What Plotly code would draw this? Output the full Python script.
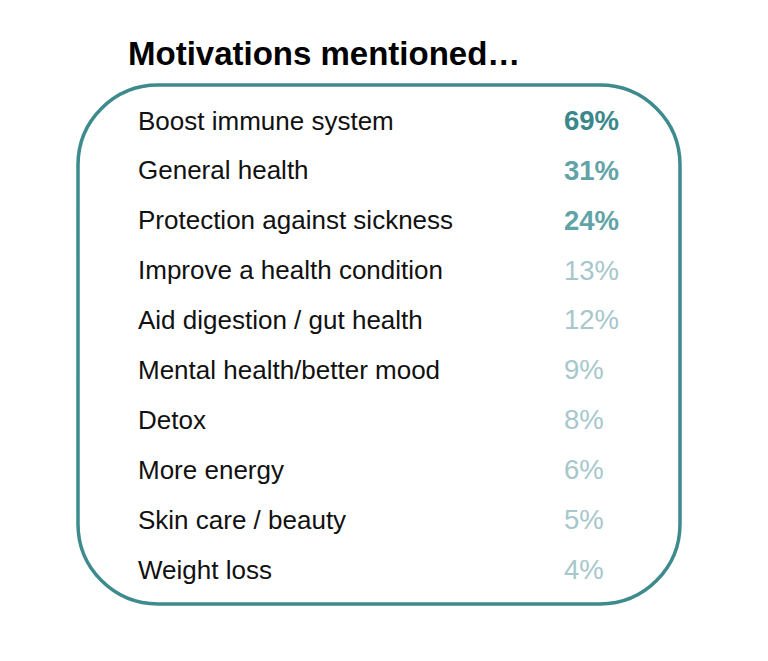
import plotly.graph_objects as go

# motivations and share of mentions
motivations = [
    "Boost immune system",
    "General health",
    "Protection against sickness",
    "Improve a health condition",
    "Aid digestion / gut health",
    "Mental health/better mood",
    "Detox",
    "More energy",
    "Skin care / beauty",
    "Weight loss",
]
shares = [69, 31, 24, 13, 12, 9, 8, 6, 5, 4]

title_text = "Motivations mentioned…"

W, H = 768, 661
TEAL = "#3e8b8e"


def tier_color(v):
    if v >= 50:
        return "#3a888c"
    if v >= 20:
        return "#62a3a8"
    return "#a6c7cb"


def tier_weight(v):
    return "<b>%d%%</b>" % v if v >= 20 else "%d%%" % v


def py(y):
    # pixel -> paper (margins are zero)
    return 1 - y / H


def rounded_box(x0, y0, x1, y1, r):
    k = 0.5523 * r
    pts = [
        "M %f,%f" % (x0 + r, py(y0)),
        "L %f,%f" % (x1 - r, py(y0)),
        "C %f,%f %f,%f %f,%f" % (x1 - r + k, py(y0), x1, py(y0 + r - k), x1, py(y0 + r)),
        "L %f,%f" % (x1, py(y1 - r)),
        "C %f,%f %f,%f %f,%f" % (x1, py(y1 - r + k), x1 - r + k, py(y1), x1 - r, py(y1)),
        "L %f,%f" % (x0 + r, py(y1)),
        "C %f,%f %f,%f %f,%f" % (x0 + r - k, py(y1), x0, py(y1 - r + k), x0, py(y1 - r)),
        "L %f,%f" % (x0, py(y0 + r)),
        "C %f,%f %f,%f %f,%f" % (x0, py(y0 + r - k), x0 + r - k, py(y0), x0 + r, py(y0)),
        "Z",
    ]
    return " ".join(pts)


fig = go.Figure()

fig.add_trace(go.Scatter(
    x=[130] * len(motivations),
    y=motivations,
    mode="text",
    text=motivations,
    textposition="middle right",
    textfont=dict(family="Liberation Sans, Arial", size=26, color="#111111"),
    hoverinfo="skip",
    showlegend=False,
))

fig.add_trace(go.Scatter(
    x=[556] * len(shares),
    y=motivations,
    mode="text",
    text=[tier_weight(v) for v in shares],
    textposition="middle right",
    textfont=dict(family="Liberation Sans, Arial", size=27.5,
                  color=[tier_color(v) for v in shares]),
    hoverinfo="skip",
    showlegend=False,
))

fig.add_shape(
    type="path",
    xref="x", yref="paper",
    path=rounded_box(70, 77, 672, 596, 80),
    line=dict(color=TEAL, width=3.5),
    fillcolor="rgba(0,0,0,0)",
)

fig.add_annotation(
    x=118, y=py(45), xref="x", yref="paper",
    text="<b>%s</b>" % title_text,
    showarrow=False, xanchor="left", yanchor="middle",
    font=dict(family="Liberation Sans, Arial", size=33, color="#000000"),
)

# rows are 50 px apart, first row centred near the top of the box
row0, step = 115, 49.9
fig.update_layout(
    width=W, height=H,
    margin=dict(l=0, r=0, t=0, b=0),
    paper_bgcolor="white", plot_bgcolor="white",
    xaxis=dict(range=[0, W], visible=False, fixedrange=True),
    yaxis=dict(type="category", categoryorder="array", categoryarray=motivations,
               range=[(H - row0) / step, -row0 / step], visible=False, fixedrange=True),
)

fig.write_html("out.html")
